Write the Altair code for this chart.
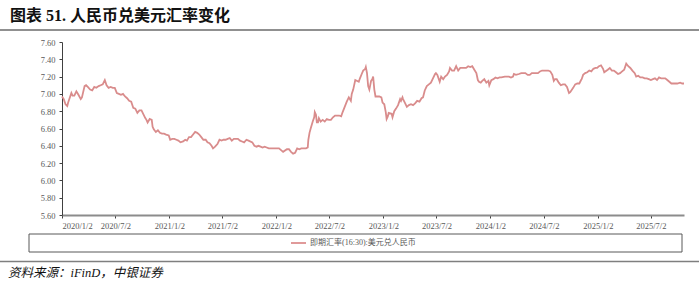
import altair as alt
import pandas as pd

TITLE = "图表 51. 人民币兑美元汇率变化"
SERIES_NAME = "即期汇率(16:30):美元兑人民币"
SOURCE = "资料来源：iFinD，中银证券"

Y_TICKS = [5.60, 5.80, 6.00, 6.20, 6.40, 6.60, 6.80, 7.00, 7.20, 7.40, 7.60]
X_TICKS = ["2020-01-02", "2020-07-02", "2021-01-02", "2021-07-02", "2022-01-02", "2022-07-02",
           "2023-01-02", "2023-07-02", "2024-01-02", "2024-07-02", "2025-01-02", "2025-07-02"]

D2020 = ["01-02", "01-08", "01-14", "01-20", "01-23", "02-03", "02-07", "02-13", "02-20", "02-27",
         "03-06", "03-10", "03-19", "03-24", "03-30", "04-07", "04-14", "04-21", "04-28", "05-06",
         "05-13", "05-20", "05-27", "06-02", "06-09", "06-16", "06-23", "06-30", "07-07", "07-14",
         "07-21", "07-28", "08-04", "08-11", "08-18", "08-25", "09-01", "09-08", "09-15", "09-22",
         "09-29", "10-12", "10-16", "10-20", "10-27", "11-03", "11-06", "11-10", "11-17", "11-24",
         "12-01", "12-08", "12-15", "12-22", "12-31"]
V2020 = [6.97, 6.94, 6.88, 6.86, 6.90, 7.01, 6.98, 6.98, 7.03, 6.99,
         6.94, 6.96, 7.09, 7.10, 7.08, 7.05, 7.04, 7.08, 7.07, 7.09,
         7.10, 7.11, 7.16, 7.10, 7.07, 7.08, 7.07, 7.07, 7.01, 7.00,
         6.99, 7.00, 6.97, 6.95, 6.92, 6.91, 6.84, 6.83, 6.78, 6.81,
         6.81, 6.72, 6.70, 6.67, 6.71, 6.70, 6.62, 6.59, 6.56, 6.58,
         6.55, 6.54, 6.54, 6.53, 6.52]

D2021 = ["01-05", "01-12", "01-19", "01-26", "02-02", "02-09", "02-18", "02-25", "03-03", "03-10",
         "03-17", "03-24", "03-31", "04-07", "04-14", "04-21", "04-28", "05-06", "05-12", "05-19",
         "05-26", "05-31", "06-07", "06-15", "06-22", "06-29", "07-06", "07-13", "07-20", "07-27",
         "08-03", "08-10", "08-17", "08-24", "08-31", "09-07", "09-14", "09-22", "09-29", "10-12",
         "10-19", "10-26", "11-02", "11-09", "11-16", "11-23", "11-30", "12-07", "12-14", "12-21",
         "12-28"]
V2021 = [6.47, 6.48, 6.48, 6.47, 6.46, 6.44, 6.45, 6.47, 6.46, 6.50,
         6.50, 6.53, 6.56, 6.55, 6.53, 6.50, 6.47, 6.47, 6.44, 6.43,
         6.40, 6.37, 6.39, 6.42, 6.47, 6.46, 6.47, 6.47, 6.48, 6.49,
         6.46, 6.48, 6.48, 6.48, 6.46, 6.45, 6.44, 6.47, 6.46, 6.44,
         6.40, 6.39, 6.40, 6.39, 6.38, 6.39, 6.38, 6.37, 6.37, 6.37,
         6.37]

D2022 = ["01-04", "01-11", "01-18", "01-25", "02-07", "02-14", "02-21", "02-28", "03-07", "03-14",
         "03-21", "03-28", "04-06", "04-13", "04-19", "04-21", "04-25", "04-29", "05-06", "05-11",
         "05-13", "05-17", "05-20", "05-24", "05-27", "06-02", "06-09", "06-16", "06-23", "06-30",
         "07-07", "07-14", "07-21", "07-28", "08-04", "08-11", "08-16", "08-23", "08-30", "09-06",
         "09-13", "09-16", "09-21", "09-28", "10-10", "10-14", "10-20", "10-25", "11-01", "11-03",
         "11-07", "11-11", "11-15", "11-21", "11-25", "11-28", "12-02", "12-06", "12-12", "12-19",
         "12-26", "12-30"]
V2022 = [6.37, 6.37, 6.35, 6.33, 6.36, 6.36, 6.33, 6.31, 6.32, 6.37,
         6.36, 6.37, 6.37, 6.37, 6.38, 6.47, 6.55, 6.60, 6.68, 6.73,
         6.79, 6.76, 6.67, 6.67, 6.72, 6.68, 6.70, 6.68, 6.71, 6.70,
         6.70, 6.73, 6.75, 6.75, 6.75, 6.74, 6.79, 6.85, 6.91, 6.96,
         6.92, 7.00, 7.05, 7.16, 7.14, 7.18, 7.23, 7.27, 7.29, 7.31,
         7.24, 7.09, 7.05, 7.15, 7.17, 7.20, 7.05, 6.97, 6.97, 6.97,
         6.96, 6.90]

D2023 = ["01-05", "01-10", "01-13", "01-17", "01-20", "01-30", "02-02", "02-08", "02-14", "02-21",
         "02-28", "03-03", "03-08", "03-10", "03-16", "03-23", "03-30", "04-06", "04-13", "04-20",
         "04-27", "05-05", "05-12", "05-17", "05-23", "05-30", "06-06", "06-13", "06-20", "06-27",
         "06-30", "07-05", "07-13", "07-18", "07-25", "07-31", "08-07", "08-14", "08-17", "08-24",
         "08-31", "09-07", "09-14", "09-21", "09-28", "10-11", "10-18", "10-25", "11-01", "11-08",
         "11-15", "11-20", "11-24", "11-30", "12-05", "12-12", "12-19", "12-26", "12-29"]
V2023 = [6.88, 6.79, 6.71, 6.74, 6.78, 6.77, 6.73, 6.80, 6.83, 6.87,
         6.94, 6.92, 6.96, 6.94, 6.90, 6.85, 6.87, 6.88, 6.87, 6.89,
         6.92, 6.91, 6.95, 6.96, 7.04, 7.09, 7.11, 7.13, 7.18, 7.23,
         7.24, 7.22, 7.14, 7.20, 7.17, 7.20, 7.22, 7.26, 7.30, 7.27,
         7.27, 7.32, 7.27, 7.30, 7.30, 7.30, 7.32, 7.31, 7.32, 7.28,
         7.24, 7.16, 7.14, 7.13, 7.15, 7.17, 7.13, 7.15, 7.10]

D2024 = ["01-05", "01-12", "01-19", "01-26", "02-02", "02-08", "02-20", "02-27", "03-05", "03-12",
         "03-19", "03-22", "03-29", "04-08", "04-16", "04-23", "04-30", "05-08", "05-15", "05-22",
         "05-29", "06-05", "06-12", "06-19", "06-26", "07-03", "07-10", "07-17", "07-24", "07-31",
         "08-05", "08-09", "08-15", "08-22", "08-29", "09-05", "09-12", "09-19", "09-26", "09-30",
         "10-10", "10-17", "10-24", "10-31", "11-06", "11-08", "11-13", "11-20", "11-27", "12-04",
         "12-11", "12-18", "12-25", "12-31"]
V2024 = [7.16, 7.17, 7.19, 7.18, 7.19, 7.19, 7.20, 7.20, 7.20, 7.19,
         7.20, 7.23, 7.22, 7.23, 7.24, 7.24, 7.24, 7.22, 7.22, 7.24,
         7.24, 7.24, 7.24, 7.26, 7.27, 7.27, 7.27, 7.27, 7.26, 7.22,
         7.15, 7.17, 7.17, 7.13, 7.10, 7.11, 7.11, 7.08, 7.01, 7.02,
         7.07, 7.11, 7.12, 7.12, 7.16, 7.17, 7.22, 7.24, 7.25, 7.27,
         7.26, 7.29, 7.30, 7.30]

D2025 = ["01-06", "01-13", "01-20", "01-24", "02-05", "02-12", "02-19", "02-26", "03-05", "03-12",
         "03-19", "03-26", "04-02", "04-09", "04-16", "04-23", "04-30", "05-08", "05-13", "05-20",
         "05-27", "06-04", "06-11", "06-18", "06-25", "07-02", "07-09", "07-16", "07-23", "07-30",
         "08-06", "08-13", "08-20", "08-27", "09-03", "09-10", "09-17", "09-24", "09-30", "10-10",
         "10-17", "10-23"]
V2025 = [7.32, 7.33, 7.29, 7.25, 7.28, 7.30, 7.27, 7.27, 7.25, 7.23,
         7.24, 7.26, 7.28, 7.35, 7.32, 7.30, 7.27, 7.24, 7.20, 7.21,
         7.19, 7.19, 7.18, 7.18, 7.17, 7.16, 7.17, 7.18, 7.16, 7.19,
         7.18, 7.18, 7.18, 7.16, 7.14, 7.12, 7.12, 7.12, 7.12, 7.13,
         7.12, 7.12]

dates, rates = [], []
for yr, ds, vs in [(2020, D2020, V2020), (2021, D2021, V2021), (2022, D2022, V2022),
                   (2023, D2023, V2023), (2024, D2024, V2024), (2025, D2025, V2025)]:
    dates += [f"{yr}-{d}" for d in ds]
    rates += vs

df = pd.DataFrame({"date": dates, "rate": rates})

SERIF = "Liberation Serif, Noto Sans CJK SC"
LINE_COLOR = "#d98c8c"
one = alt.Data(values=[{}])


def dt(s):
    y, m, d = [int(p) for p in s.split("-")]
    return alt.DateTime(year=y, month=m, date=d, utc=True)


line = alt.Chart(df).mark_line(color=LINE_COLOR, strokeWidth=1.8).encode(
    x=alt.X("date:T",
            scale=alt.Scale(type="utc", nice=False, domain=[dt(dates[0]), dt(dates[-1])]),
            axis=alt.Axis(values=[dt(s) for s in X_TICKS], grid=False,
                          labelExpr="utcFormat(datum.value, '%Y/%-m/%-d')",
                          domainColor="#8c8c8c", domainWidth=2, tickColor="#404040",
                          tickSize=3, labelFont=SERIF, labelFontSize=8.5, labelColor="#595959",
                          labelPadding=3, labelOverlap=False, title=None)),
    y=alt.Y("rate:Q",
            scale=alt.Scale(domain=[5.6, 7.6], nice=False, zero=False),
            axis=alt.Axis(values=Y_TICKS, format=".2f", grid=False, domainColor="#404040",
                          tickColor="#404040", tickSize=3, labelFont=SERIF, labelFontSize=8.5,
                          labelColor="#595959", labelPadding=4, title=None)),
)

title = alt.Chart(one).mark_text(text=TITLE, font=SERIF, fontSize=16, fontWeight="bold",
                                 color="#111111", align="left", baseline="alphabetic").encode(
    x=alt.value(-52), y=alt.value(-21))

top_rule = alt.Chart(one).mark_rule(color="#222222", strokeWidth=1.2).encode(
    x=alt.value(-62), x2=alt.value(637), y=alt.value(-12))

legend_box = alt.Chart(one).mark_rect(fill="white", stroke="#595959", strokeWidth=1).encode(
    x=alt.value(-33), x2=alt.value(620), y=alt.value(192), y2=alt.value(210))

legend_line = alt.Chart(one).mark_rule(color="#e09a9a", strokeWidth=2).encode(
    x=alt.value(229), x2=alt.value(244), y=alt.value(201))

legend_text = alt.Chart(one).mark_text(text=SERIES_NAME, font=SERIF, fontSize=8,
                                       color="#595959", align="left", baseline="middle").encode(
    x=alt.value(248), y=alt.value(201))

bottom_rule = alt.Chart(one).mark_rule(color="#7f7f7f", strokeWidth=1.5).encode(
    x=alt.value(-62), x2=alt.value(637), y=alt.value(219.5))

source = alt.Chart(one).mark_text(text=SOURCE, font=SERIF, fontSize=12.5, fontStyle="italic",
                                  color="#111111", align="left", baseline="alphabetic").encode(
    x=alt.value(-54), y=alt.value(235))

chart = alt.layer(line, title, top_rule, legend_box, legend_line, legend_text,
                  bottom_rule, source).properties(
    width=622, height=173,
    autosize=alt.AutoSizeParams(type="none"),
    padding={"left": 62, "top": 42, "right": 15, "bottom": 69},
    background="white",
).configure_view(stroke=None)

chart.save("out.html", embed_options={"renderer": "svg", "actions": False})
